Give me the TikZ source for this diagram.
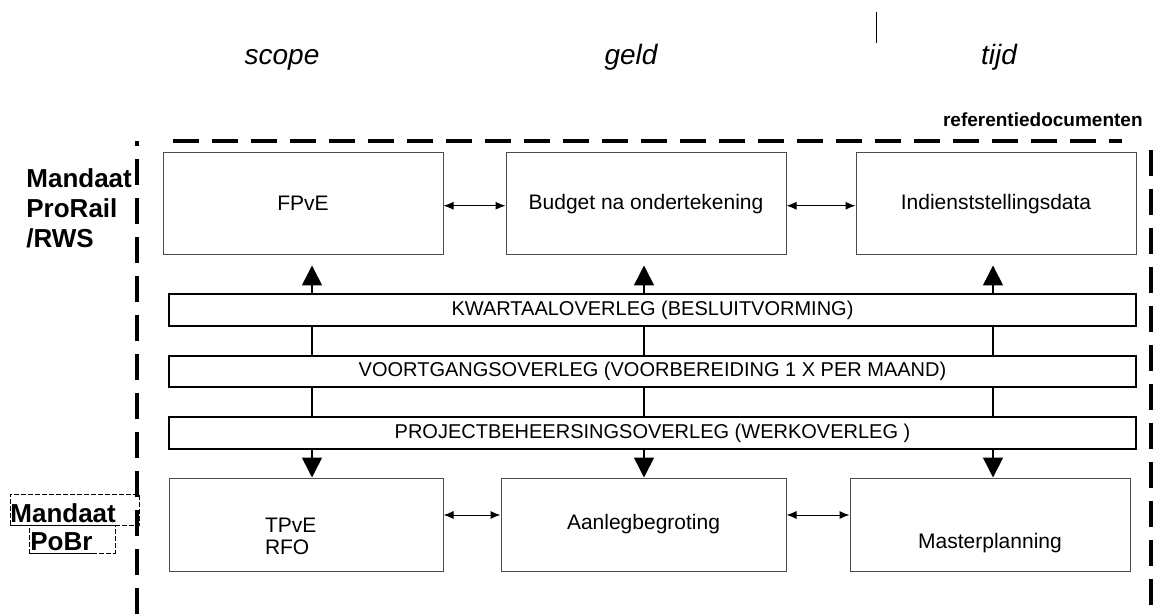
\documentclass[tikz,border=0pt]{standalone}
\usepackage{fontspec}
\setmainfont{Liberation Sans}
\usepackage{tikz}
\usetikzlibrary{arrows.meta,positioning}

\begin{document}
\begin{tikzpicture}[
    x=0.5pt, y=-0.5pt,
    docbox/.style={rectangle, draw=black!70, line width=0.5pt, minimum width=140pt, minimum height=50.75pt, inner sep=0pt, align=center, font=\fontsize{10.5}{11}\selectfont},
    lowbox/.style={docbox, minimum height=46.5pt},
    overleg/.style={rectangle, draw, line width=1pt, minimum width=483.5pt, minimum height=16pt, inner sep=0pt, font=\fontsize{10}{12}\selectfont},
    aspecttitle/.style={anchor=base, inner sep=0pt, font=\itshape\fontsize{14}{16}\selectfont},
    mandaat/.style={inner sep=0pt, align=left, font=\bfseries\fontsize{13}{15}\selectfont},
    refframe/.style={line width=2.2pt, dash pattern=on 13pt off 6.5pt},
    textframe/.style={draw, line width=0.4pt, dash pattern=on 2.5pt off 1pt, inner sep=0pt, anchor=north west},
    flow/.style={-{Triangle[length=10pt,width=10pt]}, line width=0.8pt},
    stem/.style={line width=0.8pt},
    exchange/.style={{Latex[length=5pt,width=4pt]}-{Latex[length=5pt,width=4pt]}, line width=0.5pt}
]
    \useasboundingbox (0,0) rectangle (1154,614);

    % Aspects
    \node[aspecttitle] (scope) at (282,65) {scope};
    \node[aspecttitle] (geld) at (631,65) {geld};
    \node[aspecttitle] (tijd) at (999,65) {tijd};
    \coordinate (tickTop) at (876,12);
    \coordinate (tickBottom) at (876,43);
    \draw[line width=0.5pt] (tickTop) -- (tickBottom);

    % Reference frame
    \node[anchor=base east, inner sep=0pt, font=\bfseries\fontsize{9.5}{11}\selectfont] (refdocs) at (1143,127) {referentiedocumenten};
    \draw[refframe] (137,614) -- (137,141);
    \draw[refframe] (173,141) -- (1122,141);
    \draw[refframe] (1151,150) -- (1151,614);

    % Mandates
    \node[mandaat, anchor=north west] (prorail) at (26,168.5) {Mandaat\\ProRail\\/RWS};
    \node[textframe, minimum width=64.5pt, minimum height=15.5pt] (pobrframeA) at (10,494) {};
    \node[textframe, minimum width=43pt, minimum height=14pt] (pobrframeB) at (29,525) {};
    \node[mandaat, anchor=base west] (pobrA) at (10,522) {\underline{Mandaat}};
    \node[mandaat, anchor=base west] (pobrB) at (30,550) {\underline{PoBr}};

    % Top level
    \node[docbox] (fpve) at (303,203.75) {FPvE};
    \node[docbox] (budget) at (646,203.75) {Budget na ondertekening};
    \node[docbox] (indien) at (996,203.75) {Indienststellingsdata};

    % Meetings
    \node[overleg] (kwartaal) at (652.5,310) {KWARTAALOVERLEG (BESLUITVORMING)};
    \node[overleg, minimum height=15.5pt] (voortgang) at (652.5,371.5) {VOORTGANGSOVERLEG (VOORBEREIDING 1 X PER MAAND)};
    \node[overleg] (project) at (652.5,433) {PROJECTBEHEERSINGSOVERLEG (WERKOVERLEG )};

    % Bottom level
    \node[lowbox, minimum width=137pt, text width=41pt, align=left] (tpve) at (306,524.5) {\strut\\TPvE\\RFO};
    \node[lowbox, minimum width=142.5pt] (aanleg) at (643.5,524.5) {Aanlegbegroting};
    \node[lowbox] (master) at (990,524.5) {\strut\\[7pt]Masterplanning};

    % Columns
    \coordinate (scopecol) at (312,0);
    \coordinate (geldcol) at (644,0);
    \coordinate (tijdcol) at (993,0);

    % Arrows
    \draw[flow, shorten >=5.25pt] (scopecol |- kwartaal.north) -- (scopecol |- fpve.south);
    \draw[flow, shorten >=5.25pt] (geldcol |- kwartaal.north) -- (geldcol |- budget.south);
    \draw[flow, shorten >=5.25pt] (tijdcol |- kwartaal.north) -- (tijdcol |- indien.south);
    \draw[stem] (scopecol |- kwartaal.south) -- (scopecol |- voortgang.north);
    \draw[stem] (geldcol |- kwartaal.south) -- (geldcol |- voortgang.north);
    \draw[stem] (tijdcol |- kwartaal.south) -- (tijdcol |- voortgang.north);
    \draw[stem] (scopecol |- voortgang.south) -- (scopecol |- project.north);
    \draw[stem] (geldcol |- voortgang.south) -- (geldcol |- project.north);
    \draw[stem] (tijdcol |- voortgang.south) -- (tijdcol |- project.north);
    \draw[flow] (scopecol |- project.south) -- (scopecol |- tpve.north);
    \draw[flow] (geldcol |- project.south) -- (geldcol |- aanleg.north);
    \draw[flow] (tijdcol |- project.south) -- (tijdcol |- master.north);

    \draw[exchange] ([yshift=-1pt]fpve.east) -- ([yshift=-1pt]budget.west);
    \draw[exchange] ([yshift=-1pt]budget.east) -- ([yshift=-1pt]indien.west);
    \draw[exchange] ([yshift=4.75pt]tpve.east) -- ([yshift=4.75pt]aanleg.west);
    \draw[exchange] ([yshift=4.75pt]aanleg.east) -- ([yshift=4.75pt]master.west);
\end{tikzpicture}
\end{document}
